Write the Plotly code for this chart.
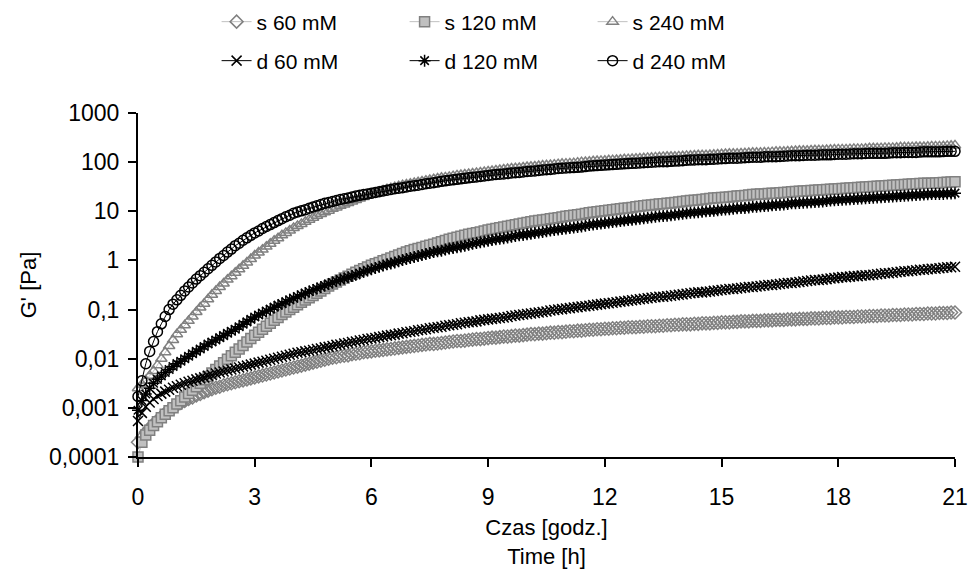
import numpy as np
import plotly.graph_objects as go

# Sampling times [h]: one reading every 6 min over 21 h
time_h = np.round(np.arange(0, 21.0001, 0.1), 1)

# Storage modulus G' [Pa]; each row holds one hour of readings, last value at 21 h
s60_pa = [
    0.0002, 0.00025, 0.00032, 0.00039, 0.00047, 0.00056, 0.00066, 0.00078, 0.00089, 0.001,
    0.00112, 0.00126, 0.00138, 0.00151, 0.00162, 0.00178, 0.00191, 0.00209, 0.00224, 0.0024,
    0.00257, 0.00269, 0.00288, 0.00302, 0.00316, 0.00331, 0.00347, 0.00363, 0.0038, 0.00398,
    0.00417, 0.00437, 0.00457, 0.00479, 0.00501, 0.00525, 0.0055, 0.00575, 0.00603, 0.00631,
    0.00661, 0.00692, 0.00724, 0.00759, 0.00794, 0.00832, 0.00871, 0.00912, 0.00955, 0.01,
    0.0105, 0.0107, 0.0112, 0.0115, 0.0117, 0.0123, 0.0126, 0.0129, 0.0135, 0.0138,
    0.0141, 0.0145, 0.0148, 0.0151, 0.0155, 0.0158, 0.0162, 0.0166, 0.017, 0.0174,
    0.0178, 0.0182, 0.0186, 0.0191, 0.0195, 0.02, 0.02, 0.0204, 0.0209, 0.0214,
    0.0219, 0.0224, 0.0229, 0.0229, 0.0234, 0.024, 0.0245, 0.0251, 0.0251, 0.0257,
    0.0263, 0.0269, 0.0269, 0.0275, 0.0282, 0.0282, 0.0288, 0.0295, 0.0295, 0.0302,
    0.0309, 0.0316, 0.0316, 0.0324, 0.0324, 0.0331, 0.0339, 0.0339, 0.0347, 0.0347,
    0.0355, 0.0363, 0.0363, 0.0372, 0.0372, 0.038, 0.0389, 0.0389, 0.0398, 0.0398,
    0.0407, 0.0407, 0.0417, 0.0417, 0.0427, 0.0427, 0.0437, 0.0437, 0.0437, 0.0447,
    0.0447, 0.0457, 0.0457, 0.0457, 0.0468, 0.0468, 0.0479, 0.0479, 0.049, 0.049,
    0.0501, 0.0501, 0.0501, 0.0513, 0.0513, 0.0525, 0.0525, 0.0525, 0.0537, 0.0537,
    0.055, 0.055, 0.055, 0.0562, 0.0562, 0.0575, 0.0575, 0.0575, 0.0589, 0.0589,
    0.0589, 0.0603, 0.0603, 0.0603, 0.0617, 0.0617, 0.0617, 0.0631, 0.0631, 0.0631,
    0.0646, 0.0646, 0.0646, 0.0661, 0.0661, 0.0661, 0.0676, 0.0676, 0.0676, 0.0692,
    0.0692, 0.0692, 0.0708, 0.0708, 0.0708, 0.0724, 0.0724, 0.0724, 0.0741, 0.0741,
    0.0741, 0.0759, 0.0759, 0.0759, 0.0776, 0.0776, 0.0776, 0.0794, 0.0794, 0.0794,
    0.0813, 0.0813, 0.0813, 0.0832, 0.0832, 0.0832, 0.0851, 0.0851, 0.0851, 0.0871,
    0.0871,
]
s120_pa = [
    0.0001, 0.0002, 0.00028, 0.00035, 0.00044, 0.00052, 0.00063, 0.00074, 0.00087, 0.001,
    0.0012, 0.0014, 0.00166, 0.00195, 0.00229, 0.00269, 0.00316, 0.00372, 0.00437, 0.00513,
    0.00603, 0.00708, 0.00832, 0.00977, 0.0115, 0.0135, 0.0158, 0.0186, 0.0219, 0.0257,
    0.0302, 0.0347, 0.0398, 0.0457, 0.0525, 0.0603, 0.0692, 0.0794, 0.0891, 0.1,
    0.112, 0.126, 0.141, 0.157, 0.174, 0.193, 0.214, 0.24, 0.269, 0.3,
    0.331, 0.363, 0.398, 0.437, 0.479, 0.525, 0.575, 0.624, 0.676, 0.733,
    0.794, 0.851, 0.912, 0.98, 1.05, 1.12, 1.2, 1.29, 1.38, 1.48,
    1.58, 1.66, 1.74, 1.84, 1.95, 2.04, 2.14, 2.27, 2.4, 2.54,
    2.69, 2.82, 2.95, 3.09, 3.24, 3.39, 3.55, 3.67, 3.8, 3.98,
    4.17, 4.32, 4.47, 4.63, 4.79, 4.96, 5.13, 5.31, 5.5, 5.69,
    5.89, 6.1, 6.31, 6.46, 6.61, 6.84, 7.08, 7.24, 7.41, 7.67,
    7.94, 8.13, 8.32, 8.51, 8.71, 9.02, 9.33, 9.55, 9.77, 10.0,
    10.2, 10.5, 10.7, 11.0, 11.2, 11.5, 11.7, 12.0, 12.3, 12.6,
    12.9, 13.2, 13.5, 13.8, 14.1, 14.3, 14.5, 14.8, 15.1, 15.5,
    15.8, 16.2, 16.6, 16.8, 17.0, 17.4, 17.8, 18.2, 18.6, 18.9,
    19.1, 19.3, 19.5, 20.0, 20.4, 20.6, 20.9, 21.4, 21.9, 22.1,
    22.4, 22.6, 22.9, 23.2, 23.4, 23.7, 24.0, 24.5, 25.1, 25.4,
    25.7, 26.0, 26.3, 26.6, 26.9, 27.2, 27.5, 27.8, 28.2, 28.5,
    28.8, 29.2, 29.5, 29.8, 30.2, 30.6, 30.9, 31.3, 31.6, 32.0,
    32.4, 32.7, 33.1, 33.5, 33.9, 34.3, 34.7, 35.1, 35.5, 35.9,
    36.3, 36.8, 37.2, 37.2, 37.2, 37.6, 38.0, 38.5, 38.9, 39.4,
    39.8,
]
s240_pa = [
    0.0025, 0.003, 0.0036, 0.0045, 0.0056, 0.0074, 0.01, 0.0135, 0.0182, 0.024,
    0.0316, 0.0389, 0.0479, 0.0589, 0.0724, 0.0891, 0.11, 0.132, 0.162, 0.2,
    0.24, 0.288, 0.339, 0.407, 0.479, 0.562, 0.661, 0.776, 0.912, 1.07,
    1.26, 1.45, 1.66, 1.91, 2.19, 2.51, 2.82, 3.24, 3.63, 4.07,
    4.57, 5.0, 5.5, 6.1, 6.76, 7.41, 8.13, 8.81, 9.55, 10.3,
    11.2, 12.0, 12.9, 13.8, 14.8, 15.9, 17.0, 18.2, 19.5, 20.9,
    22.4, 23.7, 25.1, 26.6, 28.2, 29.5, 30.9, 32.4, 33.9, 35.1,
    36.3, 37.6, 38.9, 40.3, 41.7, 43.2, 44.7, 46.3, 47.9, 49.0,
    50.1, 51.9, 53.7, 54.9, 56.2, 57.5, 58.9, 60.3, 61.7, 63.1,
    64.6, 66.1, 67.6, 69.2, 70.8, 72.4, 74.1, 75.0, 75.9, 77.6,
    79.4, 80.4, 81.3, 83.2, 85.1, 86.1, 87.1, 89.1, 91.2, 92.3,
    93.3, 94.4, 95.5, 97.7, 100, 101, 102, 104, 105, 106,
    107, 109, 110, 111, 112, 114, 115, 116, 117, 119,
    120, 122, 123, 125, 126, 128, 129, 129, 129, 131,
    132, 134, 135, 137, 138, 138, 138, 140, 141, 143,
    145, 147, 148, 148, 148, 150, 151, 153, 155, 155,
    155, 157, 158, 160, 162, 162, 162, 164, 166, 168,
    170, 170, 170, 172, 174, 174, 174, 176, 178, 180,
    182, 182, 182, 184, 186, 186, 186, 188, 191, 191,
    191, 193, 195, 195, 195, 197, 200, 200, 200, 202,
    204, 204, 204, 206, 209, 209, 209, 211, 214, 216,
    219,
]
d60_pa = [
    0.00054, 0.00079, 0.00105, 0.00129, 0.00151, 0.00174, 0.00195, 0.00214, 0.00234, 0.00257,
    0.00275, 0.00295, 0.00316, 0.00339, 0.00355, 0.0038, 0.00398, 0.00417, 0.00447, 0.00468,
    0.00501, 0.00525, 0.0055, 0.00575, 0.00603, 0.00631, 0.00661, 0.00692, 0.00724, 0.00759,
    0.00794, 0.00832, 0.00871, 0.00912, 0.00955, 0.01, 0.0105, 0.011, 0.0115, 0.012,
    0.0126, 0.0132, 0.0135, 0.0141, 0.0145, 0.0151, 0.0158, 0.0162, 0.017, 0.0174,
    0.0182, 0.0191, 0.0195, 0.0204, 0.0209, 0.0219, 0.0224, 0.0234, 0.024, 0.0251,
    0.0257, 0.0263, 0.0275, 0.0282, 0.0295, 0.0302, 0.0309, 0.0324, 0.0331, 0.0347,
    0.0355, 0.0363, 0.038, 0.0389, 0.0398, 0.0417, 0.0427, 0.0437, 0.0447, 0.0468,
    0.0479, 0.049, 0.0501, 0.0525, 0.0537, 0.055, 0.0562, 0.0575, 0.0603, 0.0617,
    0.0631, 0.0646, 0.0661, 0.0676, 0.0692, 0.0708, 0.0741, 0.0759, 0.0776, 0.0794,
    0.0813, 0.0832, 0.0851, 0.0871, 0.0891, 0.0912, 0.0955, 0.0977, 0.1, 0.102,
    0.105, 0.107, 0.11, 0.112, 0.115, 0.117, 0.12, 0.123, 0.126, 0.129,
    0.132, 0.135, 0.138, 0.141, 0.145, 0.148, 0.151, 0.155, 0.158, 0.162,
    0.166, 0.17, 0.174, 0.178, 0.182, 0.182, 0.186, 0.191, 0.195, 0.2,
    0.204, 0.209, 0.214, 0.219, 0.224, 0.224, 0.229, 0.234, 0.24, 0.245,
    0.251, 0.257, 0.263, 0.263, 0.269, 0.275, 0.282, 0.288, 0.288, 0.295,
    0.302, 0.309, 0.316, 0.316, 0.324, 0.331, 0.339, 0.347, 0.347, 0.355,
    0.363, 0.372, 0.38, 0.389, 0.398, 0.398, 0.407, 0.417, 0.427, 0.437,
    0.447, 0.457, 0.457, 0.468, 0.479, 0.479, 0.49, 0.501, 0.501, 0.513,
    0.525, 0.537, 0.55, 0.55, 0.562, 0.575, 0.589, 0.603, 0.603, 0.617,
    0.631, 0.646, 0.646, 0.661, 0.676, 0.676, 0.692, 0.708, 0.724, 0.724,
    0.741,
]
d120_pa = [
    0.00089, 0.00141, 0.00191, 0.00251, 0.00316, 0.0038, 0.00447, 0.00525, 0.00603, 0.00692,
    0.00794, 0.00891, 0.01, 0.0112, 0.0126, 0.0141, 0.0158, 0.0178, 0.02, 0.0219,
    0.024, 0.0269, 0.0295, 0.0331, 0.0363, 0.0398, 0.0447, 0.0501, 0.0562, 0.0631,
    0.0708, 0.0776, 0.0851, 0.0933, 0.102, 0.112, 0.123, 0.132, 0.145, 0.158,
    0.17, 0.185, 0.2, 0.216, 0.234, 0.251, 0.269, 0.288, 0.309, 0.331,
    0.355, 0.38, 0.407, 0.431, 0.457, 0.484, 0.513, 0.55, 0.589, 0.624,
    0.661, 0.7, 0.741, 0.785, 0.832, 0.871, 0.912, 0.966, 1.02, 1.07,
    1.12, 1.17, 1.23, 1.29, 1.35, 1.41, 1.48, 1.53, 1.58, 1.66,
    1.74, 1.8, 1.86, 1.93, 2.0, 2.09, 2.19, 2.26, 2.34, 2.42,
    2.51, 2.6, 2.69, 2.75, 2.82, 2.92, 3.02, 3.13, 3.24, 3.31,
    3.39, 3.51, 3.63, 3.71, 3.8, 3.93, 4.07, 4.17, 4.27, 4.37,
    4.47, 4.57, 4.68, 4.79, 4.9, 5.07, 5.25, 5.37, 5.5, 5.62,
    5.75, 5.89, 6.03, 6.17, 6.31, 6.46, 6.61, 6.76, 6.92, 7.08,
    7.24, 7.41, 7.59, 7.76, 7.94, 8.04, 8.13, 8.32, 8.51, 8.71,
    8.91, 9.12, 9.33, 9.44, 9.55, 9.77, 10.0, 10.1, 10.2, 10.5,
    10.7, 10.9, 11.0, 11.2, 11.5, 11.6, 11.7, 12.0, 12.3, 12.4,
    12.6, 12.8, 12.9, 13.2, 13.5, 13.6, 13.8, 14.1, 14.5, 14.6,
    14.8, 15.0, 15.1, 15.3, 15.5, 15.6, 15.8, 16.2, 16.6, 16.8,
    17.0, 17.2, 17.4, 17.6, 17.8, 18.0, 18.2, 18.4, 18.6, 18.8,
    19.1, 19.3, 19.5, 19.7, 20.0, 20.2, 20.4, 20.6, 20.9, 21.1,
    21.4, 21.6, 21.9, 22.1, 22.4, 22.4, 22.4, 22.6, 22.9, 23.1,
    23.4,
]
d240_pa = [
    0.0017, 0.00355, 0.0079, 0.0141, 0.0224, 0.0355, 0.0513, 0.0724, 0.1, 0.129,
    0.158, 0.195, 0.24, 0.288, 0.347, 0.417, 0.49, 0.575, 0.676, 0.794,
    0.933, 1.1, 1.26, 1.48, 1.7, 2.0, 2.24, 2.57, 2.88, 3.24,
    3.63, 3.98, 4.47, 4.9, 5.37, 5.89, 6.46, 7.08, 7.76, 8.32,
    9.12, 9.65, 10.2, 10.8, 11.5, 12.2, 12.9, 13.7, 14.5, 15.1,
    15.8, 16.6, 17.4, 18.0, 18.6, 19.5, 20.4, 21.1, 21.9, 22.6,
    23.4, 24.2, 25.1, 26.0, 26.9, 27.8, 28.8, 29.5, 30.2, 31.3,
    32.4, 33.1, 33.9, 35.1, 36.3, 37.2, 38.0, 39.3, 40.7, 41.7,
    42.7, 43.7, 44.7, 45.7, 46.8, 47.9, 49.0, 50.1, 51.3, 52.5,
    53.7, 55.0, 56.2, 56.9, 57.5, 58.9, 60.3, 61.0, 61.7, 63.1,
    64.6, 65.3, 66.1, 67.6, 69.2, 70.0, 70.8, 72.4, 74.1, 75.0,
    75.9, 76.7, 77.6, 78.5, 79.4, 81.3, 83.2, 84.1, 85.1, 86.1,
    87.1, 88.1, 89.1, 90.2, 91.2, 92.3, 93.3, 94.4, 95.5, 96.6,
    97.7, 98.9, 100, 101, 102, 102, 102, 104, 105, 106,
    107, 109, 110, 111, 112, 112, 112, 114, 115, 116,
    117, 118, 120, 120, 120, 122, 123, 125, 126, 126,
    126, 128, 129, 129, 129, 131, 132, 134, 135, 135,
    135, 137, 138, 138, 138, 140, 141, 141, 141, 143,
    145, 145, 145, 147, 148, 148, 148, 150, 151, 151,
    151, 151, 151, 153, 155, 155, 155, 157, 158, 158,
    158, 160, 162, 162, 162, 162, 162, 164, 166, 166,
    166,
]

y_tick_vals = [0.0001, 0.001, 0.01, 0.1, 1, 10, 100, 1000]
y_tick_text = ["0,0001", "0,001", "0,01", "0,1", "1", "10", "100", "1000"]
x_tick_vals = [0, 3, 6, 9, 12, 15, 18, 21]

FONT = "Liberation Sans, Arial, sans-serif"
GRAY = "#808080"
LIGHT = "#c0c0c0"

series = [
    # name, values, symbol, marker colour, outline colour, line colour, legend
    ("s 60 mM", s60_pa, "diamond-open", GRAY, GRAY, LIGHT, "legend"),
    ("s 120 mM", s120_pa, "square", LIGHT, GRAY, LIGHT, "legend"),
    ("s 240 mM", s240_pa, "triangle-up-open", GRAY, GRAY, LIGHT, "legend"),
    ("d 60 mM", d60_pa, "x-thin-open", "black", "black", "black", "legend2"),
    ("d 120 mM", d120_pa, "asterisk-open", "black", "black", "black", "legend2"),
    ("d 240 mM", d240_pa, "circle-open", "black", "black", "black", "legend2"),
]

fig = go.Figure()
for name, vals, symbol, mcol, ocol, lcol, leg in series:
    assert len(vals) == len(time_h), name
    fig.add_trace(go.Scatter(
        x=time_h, y=vals, name=name, mode="lines+markers",
        line=dict(color=lcol, width=1),
        marker=dict(symbol=symbol, size=10, color=mcol,
                    line=dict(color=ocol, width=1.5)),
        cliponaxis=False, legend=leg,
    ))

legend_common = dict(
    orientation="h", xref="container", yref="container",
    xanchor="left", yanchor="middle", entrywidth=143,
    font=dict(family=FONT, size=21, color="black"),
    bgcolor="rgba(0,0,0,0)", itemsizing="trace",
)

fig.update_layout(
    width=980, height=577,
    margin=dict(l=138, r=15, t=113, b=119),
    paper_bgcolor="white", plot_bgcolor="white",
    font=dict(family=FONT, size=21, color="black"),
    legend=dict(x=0.221, y=1 - 22 / 577, **legend_common),
    legend2=dict(x=0.221, y=1 - 61 / 577, **legend_common),
    xaxis=dict(
        range=[0, 21], tickvals=x_tick_vals, ticks="outside", ticklen=8,
        tickwidth=1.5, tickcolor="black", showline=True, linecolor="black",
        linewidth=2, showgrid=False, zeroline=False, ticklabelstandoff=10,
        tickfont=dict(family=FONT, size=23, color="black"),
        title=dict(text="Czas [godz.]<br>Time [h]", standoff=11,
                   font=dict(family=FONT, size=22, color="black")),
    ),
    yaxis=dict(
        type="log", range=[-4, 3], tickvals=y_tick_vals, ticktext=y_tick_text,
        ticks="outside", ticklen=8, tickwidth=1.5, tickcolor="black",
        showline=True, linecolor="black", linewidth=2, showgrid=False,
        zeroline=False, ticklabelstandoff=4,
        tickfont=dict(family=FONT, size=23, color="black"),
        title=dict(text="G' [Pa]", standoff=6,
                   font=dict(family=FONT, size=22, color="black")),
    ),
)

fig.write_html("out.html")
